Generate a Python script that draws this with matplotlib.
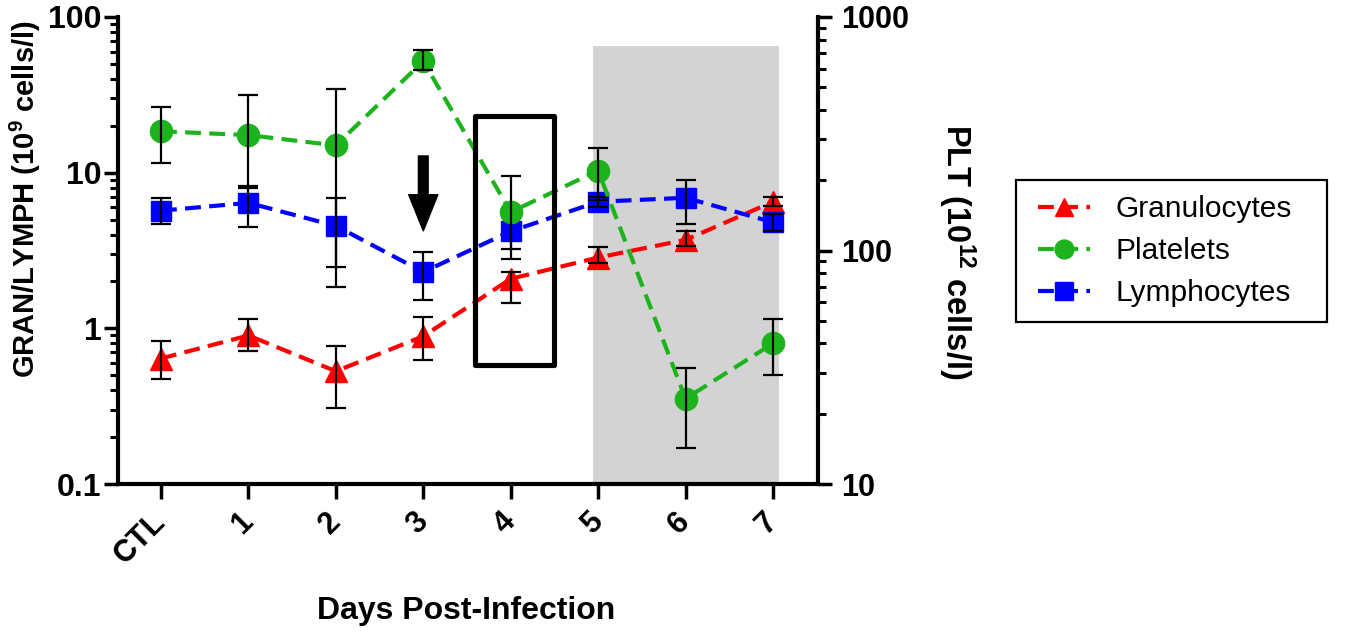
import matplotlib
matplotlib.use("Agg")
import matplotlib.pyplot as plt
from matplotlib.patches import Rectangle
from matplotlib.ticker import LogLocator, NullFormatter, FixedLocator, FixedFormatter
import numpy as np

plt.rcParams['font.family'] = ['Liberation Sans', 'DejaVu Sans']
plt.rcParams['font.weight'] = 'bold'
plt.rcParams['mathtext.fontset'] = 'custom'
plt.rcParams['mathtext.rm'] = 'Liberation Sans:bold'
plt.rcParams['mathtext.bf'] = 'Liberation Sans:bold'
plt.rcParams['mathtext.default'] = 'rm'

# ---- data ----
days = ['CTL', '1', '2', '3', '4', '5', '6', '7']

gran = [0.64, 0.90, 0.53, 0.89, 2.08, 2.85, 3.7, 6.5]
gran_lo = [0.47, 0.71, 0.31, 0.63, 1.46, 2.62, 3.4, 6.1]
gran_hi = [0.83, 1.15, 0.77, 1.18, 2.30, 3.33, 4.2, 7.0]

lymph = [5.7, 6.4, 4.55, 2.3, 4.2, 6.5, 6.9, 4.8]
lymph_lo = [4.7, 4.5, 2.48, 1.53, 3.24, 6.0, 4.7, 4.2]
lymph_hi = [6.9, 8.2, 6.9, 3.1, 5.2, 7.0, 9.0, 5.4]

plt_vals = [324, 312, 282, 647, 146, 220, 23.2, 40]
plt_lo = [236, 186, 70, 593, 92, 164, 14.3, 29.3]
plt_hi = [411, 463, 491, 722, 208, 274, 31.5, 51]

left_ticks = [0.1, 1, 10, 100]
left_ticklabels = ['0.1', '1', '10', '100']
right_ticks = [10, 100, 1000]
right_ticklabels = ['10', '100', '1000']

RED = '#FF0000'
GREEN = '#1DB31D'
BLUE = '#0000FF'

x = np.arange(len(days))

fig = plt.figure(figsize=(13.5, 6.35), dpi=100)
ax = fig.add_axes([118/1350, 1-484/635, 700/1350, 467/635])
ax.set_yscale('log')
ax.set_ylim(0.1, 100)
ax.set_xlim(-0.492, 7.515)
ax2 = ax.twinx()
ax2.set_yscale('log')
ax2.set_ylim(10, 1000)

# shaded region
ax.axvspan(4.94, 7.07, ymin=0, ymax=0.938, color='#D3D3D3', lw=0, zorder=0)

ls = (0, (3.8, 2.0))
lw = 3.0

def series(axis, vals, lo, hi, color, marker, ms, label):
    vals = np.array(vals); lo = np.array(lo); hi = np.array(hi)
    line, = axis.plot(x, vals, linestyle=ls, lw=lw, color=color, marker=marker,
                      ms=ms, mec=color, mfc=color, zorder=3, label=label)
    axis.errorbar(x, vals, yerr=[vals - lo, hi - vals], fmt='none', ecolor='black',
                  elinewidth=1.6, capsize=7.5, capthick=1.6, zorder=4)
    return line

l_gran = series(ax, gran, gran_lo, gran_hi, RED, '^', 16, 'Granulocytes')
l_lymph = series(ax, lymph, lymph_lo, lymph_hi, BLUE, 's', 15, 'Lymphocytes')
l_plt = series(ax2, plt_vals, plt_lo, plt_hi, GREEN, 'o', 16, 'Platelets')

# black box around day 4
box = Rectangle((3.586, 0.583), 0.909, 23.0 - 0.583, fill=False, lw=3.7,
                ec='black', joinstyle='round', transform=ax.transData, zorder=6)
ax2.add_patch(box)

# arrow at day 3
ax2.annotate('', xy=(3, 4.23), xytext=(3, 12.8), xycoords=ax.transData,
             textcoords=ax.transData,
             arrowprops=dict(facecolor='black', edgecolor='black', width=7,
                             headwidth=21, headlength=26, shrink=0), zorder=7)

# spines
for a in (ax, ax2):
    a.spines['top'].set_visible(False)
    for s in a.spines.values():
        s.set_linewidth(3)
ax.spines['right'].set_visible(False)
ax2.spines['left'].set_visible(False)
ax2.spines['bottom'].set_visible(False)

# ticks
ax.set_xticks(x)
ax.set_xticklabels(days, rotation=45, ha='right', va='center', rotation_mode='anchor',
                   fontsize=22, fontweight='bold')
ax.tick_params(axis='x', length=11, width=2.5, pad=13)

ax.yaxis.set_major_locator(FixedLocator(left_ticks))
ax.yaxis.set_major_formatter(FixedFormatter(left_ticklabels))
ax.yaxis.set_minor_locator(LogLocator(base=10, subs=np.arange(2, 10)))
ax.yaxis.set_minor_formatter(NullFormatter())
ax.tick_params(axis='y', which='major', length=10, width=2.5, pad=2, labelsize=23)
ax.tick_params(axis='y', which='minor', length=6, width=2.2)

ax2.yaxis.set_major_locator(FixedLocator(right_ticks))
ax2.yaxis.set_major_formatter(FixedFormatter(right_ticklabels))
ax2.yaxis.set_minor_locator(LogLocator(base=10, subs=np.arange(2, 10)))
ax2.yaxis.set_minor_formatter(NullFormatter())
ax2.tick_params(axis='y', which='major', length=10, width=2.5, pad=7, labelsize=22)
ax2.tick_params(axis='y', which='minor', length=6, width=2.2)

# labels
fig.text(25/1350, 1-199/635, r'GRAN/LYMPH (10$^{9}$ cells/l)', rotation=90,
         ha='center', va='center', fontsize=21, fontweight='bold')
fig.text(957/1350, 1-252/635, r'PLT (10$^{12}$ cells/l)', rotation=270,
         ha='center', va='center', fontsize=23.5, fontweight='bold')
fig.text(466/1350, 1-611/635, 'Days Post-Infection', ha='center', va='center',
         fontsize=23, fontweight='bold')

# legend (frame drawn separately)
leg = ax2.legend([l_gran, l_plt, l_lymph], ['Granulocytes', 'Platelets', 'Lymphocytes'],
                 loc='upper left', bbox_to_anchor=(1038/1350, 1-195/635),
                 bbox_transform=fig.transFigure, frameon=False, borderpad=0,
                 borderaxespad=0, handlelength=1.75, handletextpad=0.85,
                 labelspacing=0.47, markerscale=0.85,
                 prop=dict(size=21.5, weight='normal'))
leg.set_zorder(10)
frame = Rectangle((1016/1350, 1-322/635), 311/1350, 142/635, transform=fig.transFigure,
                  fill=False, ec='black', lw=1.6)
fig.add_artist(frame)

fig.savefig('out.png', dpi=100)
